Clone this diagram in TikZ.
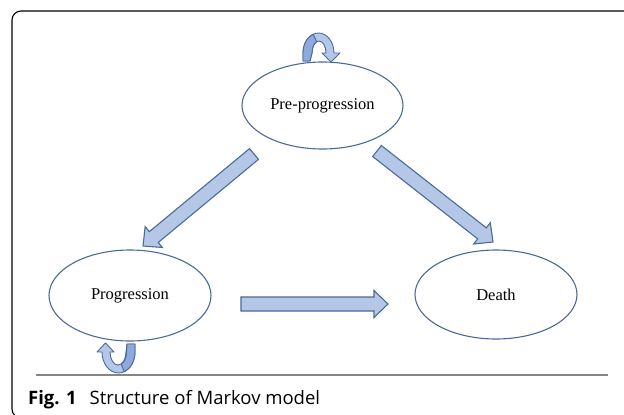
\documentclass[tikz,border=0pt]{standalone}
\usepackage{fontspec}
\setmainfont{Liberation Serif}
\newfontfamily\capfont{Open Sans}
\usetikzlibrary{calc,shapes.geometric}
\definecolor{lblue}{HTML}{B4C7E7}
\definecolor{dblue}{HTML}{8EA9DB}
\definecolor{eblue}{HTML}{4A6A9A}
\definecolor{rulegray}{HTML}{858585}
\tikzset{
  state/.style={ellipse, draw=eblue, line width=1.1pt, inner sep=0pt, font=\fontsize{16.5}{19}\selectfont},
  blockarrow/.style={fill=lblue, draw=eblue, line width=1.1pt, line join=miter},
  loopband/.style={fill=lblue, draw=eblue, line width=0.9pt, line join=round},
  loopshade/.style={fill=dblue, draw=eblue, line width=0.9pt, line join=round},
}
\newcommand\blockarr[2]{%
  \coordinate (#2h) at ($(#2)!14pt!(#1)$);
  \draw[blockarrow] ($(#1)!7pt!90:(#2)$) -- ($(#2h)!7pt!90:(#2)$) -- ($(#2h)!13.5pt!90:(#2)$) -- (#2)
    -- ($(#2h)!13.5pt!-90:(#2)$) -- ($(#2h)!7pt!-90:(#2)$) -- ($(#1)!7pt!-90:(#2)$) -- cycle;
}
\begin{document}
\begin{tikzpicture}[x=1pt, y=-1pt]
\useasboundingbox (0,0) rectangle (624,415);
\clip (0,0) rectangle (624,415);
% frame
\draw[line width=1.1pt, rounded corners=9pt] (12,11) rectangle (650,418);
% states
\node[state, minimum width=161pt, minimum height=87pt] (pre) at (322.5,105.5) {Pre-progression};
\node[state, minimum width=162pt, minimum height=91pt] (prog) at (130,295.5) {Progression};
\node[state, minimum width=162pt, minimum height=89pt] (death) at (496,294.5) {Death};
% block arrows
\coordinate (a1s) at (254,154); \coordinate (a1t) at (143,246);
\coordinate (a2s) at (377,151); \coordinate (a2t) at (493,242);
\coordinate (a3s) at (241,304); \coordinate (a3t) at (388,304);
\blockarr{a1s}{a1t}
\blockarr{a2s}{a2t}
\blockarr{a3s}{a3t}
% self loop on Pre-progression
\draw[loopband] (303,61) -- (303,53) arc[start angle=180, end angle=360, x radius=15.5, y radius=20]
  -- (340,53) -- (331,62) -- (322,53) -- (326,53)
  arc[start angle=360, end angle=180, x radius=7, y radius=12] -- (310,61) -- cycle;
\draw[loopshade] (303,61) -- (303,53) arc[start angle=180, end angle=250, x radius=15.5, y radius=20]
  -- ($(319,53)+(250:7 and 12)$) arc[start angle=250, end angle=180, x radius=7, y radius=12] -- (310,61) -- cycle;
% self loop on Progression
\draw[loopband] (135,344) -- (135,352) arc[start angle=0, end angle=180, x radius=16.5, y radius=21]
  -- (97,352) -- (105.5,343) -- (114,352) -- (110,352)
  arc[start angle=180, end angle=0, x radius=8, y radius=13] -- (127,344) -- cycle;
\draw[loopshade] (135,344) -- (135,352) arc[start angle=0, end angle=70, x radius=16.5, y radius=21]
  -- ($(118.5,352)+(70:8 and 13)$) arc[start angle=70, end angle=0, x radius=8, y radius=13] -- (127,344) -- cycle;
% rule and caption
\draw[rulegray, line width=1.8pt] (36,375) -- (608,375);
\node[anchor=base west, inner sep=0pt, font=\capfont\fontsize{18.5}{22}\selectfont] (cap) at (28,404)
  {\textbf{Fig. 1}\hspace{13pt}Structure of Markov model};
\end{tikzpicture}
\end{document}
